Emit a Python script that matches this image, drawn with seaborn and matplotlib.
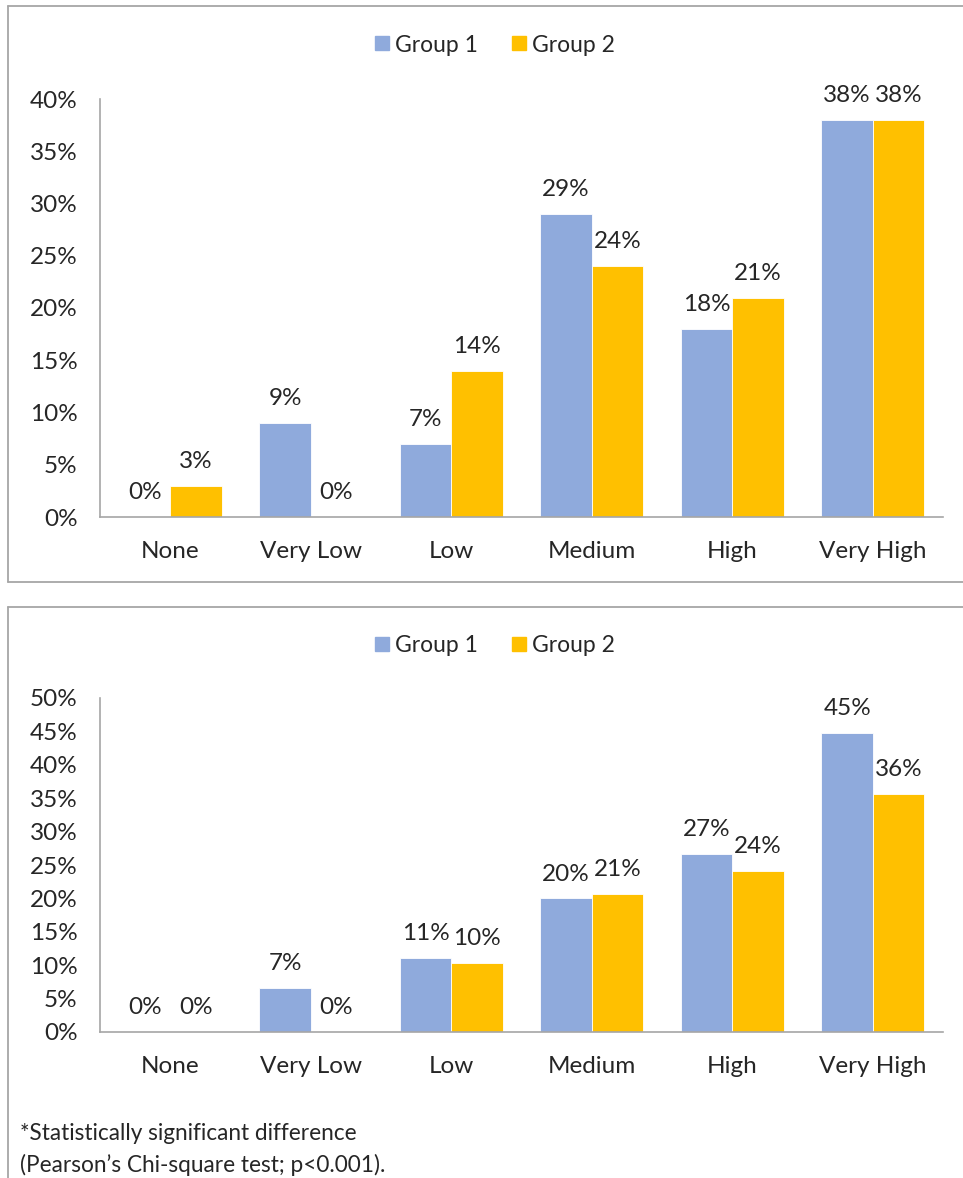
import matplotlib
matplotlib.use("Agg")
import matplotlib.pyplot as plt
import seaborn as sns
import pandas as pd
from matplotlib.lines import Line2D

categories = ["None", "Very Low", "Low", "Medium", "High", "Very High"]
groups = ["Group 1", "Group 2"]

top_group1 = [0, 9, 7, 29, 18, 38]
top_group2 = [3, 0, 14, 24, 21, 38]
top_ticks = [0, 5, 10, 15, 20, 25, 30, 35, 40]

bottom_group1 = [0, 6.6, 11.1, 20.0, 26.7, 44.8]
bottom_group2 = [0, 0, 10.3, 20.7, 24.1, 35.6]
bottom_ticks = [0, 5, 10, 15, 20, 25, 30, 35, 40, 45, 50]

footnote_lines = ["*Statistically significant difference",
                  "(Pearson\u2019s Chi-square test; p<0.001)."]

colors = {"Group 1": "#8FAADC", "Group 2": "#FFC000"}

sns.set_theme(style="white")
plt.rcParams['font.family'] = ['Lato', 'DejaVu Sans']
plt.rcParams['font.weight'] = 'normal'

TEXT = "#262626"
SPINE = "#A6A6A6"
FS = 17.5

W, H = 963, 1178
fig = plt.figure(figsize=(W / 100, H / 100), dpi=100)


def long_df(g1, g2):
    rows = []
    for c, a, b in zip(categories, g1, g2):
        rows.append({"cat": c, "grp": "Group 1", "val": a})
        rows.append({"cat": c, "grp": "Group 2", "val": b})
    return pd.DataFrame(rows)


def px_axes(left, top, right, bottom):
    return fig.add_axes([left / W, 1 - bottom / H, (right - left) / W, (bottom - top) / H])


def draw_panel(ax, g1, g2, ticks, legend_y):
    df = long_df(g1, g2)
    sns.barplot(data=df, x="cat", y="val", hue="grp", order=categories,
                hue_order=groups, palette=colors, width=0.73, ax=ax,
                saturation=1, edgecolor="white", linewidth=0.6, legend=False)
    ax.set_xlim(-0.5, len(categories) - 0.5)
    ax.set_ylim(ticks[0], ticks[-1])
    ax.set_yticks(ticks)
    ax.set_yticklabels([f"{t}%" for t in ticks])
    ax.set_xlabel("")
    ax.set_ylabel("")
    for s in ["top", "right"]:
        ax.spines[s].set_visible(False)
    for s in ["left", "bottom"]:
        ax.spines[s].set_color(SPINE)
        ax.spines[s].set_linewidth(1.2)
    ax.tick_params(axis="y", length=0, pad=16, labelsize=FS, labelcolor=TEXT)
    ax.tick_params(axis="x", length=0, pad=17, labelsize=FS, labelcolor=TEXT)
    for cont, vals in zip(ax.containers, [g1, g2]):
        ax.bar_label(cont, labels=[f"{v:.0f}%" for v in vals], padding=10,
                     fontsize=FS, color=TEXT)
    handles = [Line2D([0], [0], marker="s", linestyle="none", markersize=10,
                      markerfacecolor=colors[g], markeredgecolor=colors[g]) for g in groups]
    ax.legend(handles, groups, loc="center", bbox_to_anchor=(495 / W, 1 - legend_y / H),
              bbox_transform=fig.transFigure, ncol=2, frameon=False, fontsize=16.5,
              handlelength=0.6, handletextpad=0.25, columnspacing=1.5, labelcolor=TEXT)


ax1 = px_axes(100, 99, 943, 517)
draw_panel(ax1, top_group1, top_group2, top_ticks, 45)

ax2 = px_axes(100, 698, 943, 1032)
draw_panel(ax2, bottom_group1, bottom_group2, bottom_ticks, 646)


def fline(x0, y0, x1, y1):
    fig.add_artist(Line2D([x0 / W, x1 / W], [1 - y0 / H, 1 - y1 / H],
                          transform=fig.transFigure, color=SPINE, linewidth=1.3))


fline(8, 6, 963, 6)
fline(8, 6, 8, 582)
fline(8, 582, 963, 582)
fline(8, 607, 963, 607)
fline(8, 607, 8, 1178)

fig.text(20 / W, 1 - 1134 / H, footnote_lines[0], fontsize=16.3, color=TEXT, va="center", ha="left")
fig.text(20 / W, 1 - 1165 / H, footnote_lines[1], fontsize=16.3, color=TEXT, va="center", ha="left")

fig.savefig("out.png", dpi=100, facecolor="white")
